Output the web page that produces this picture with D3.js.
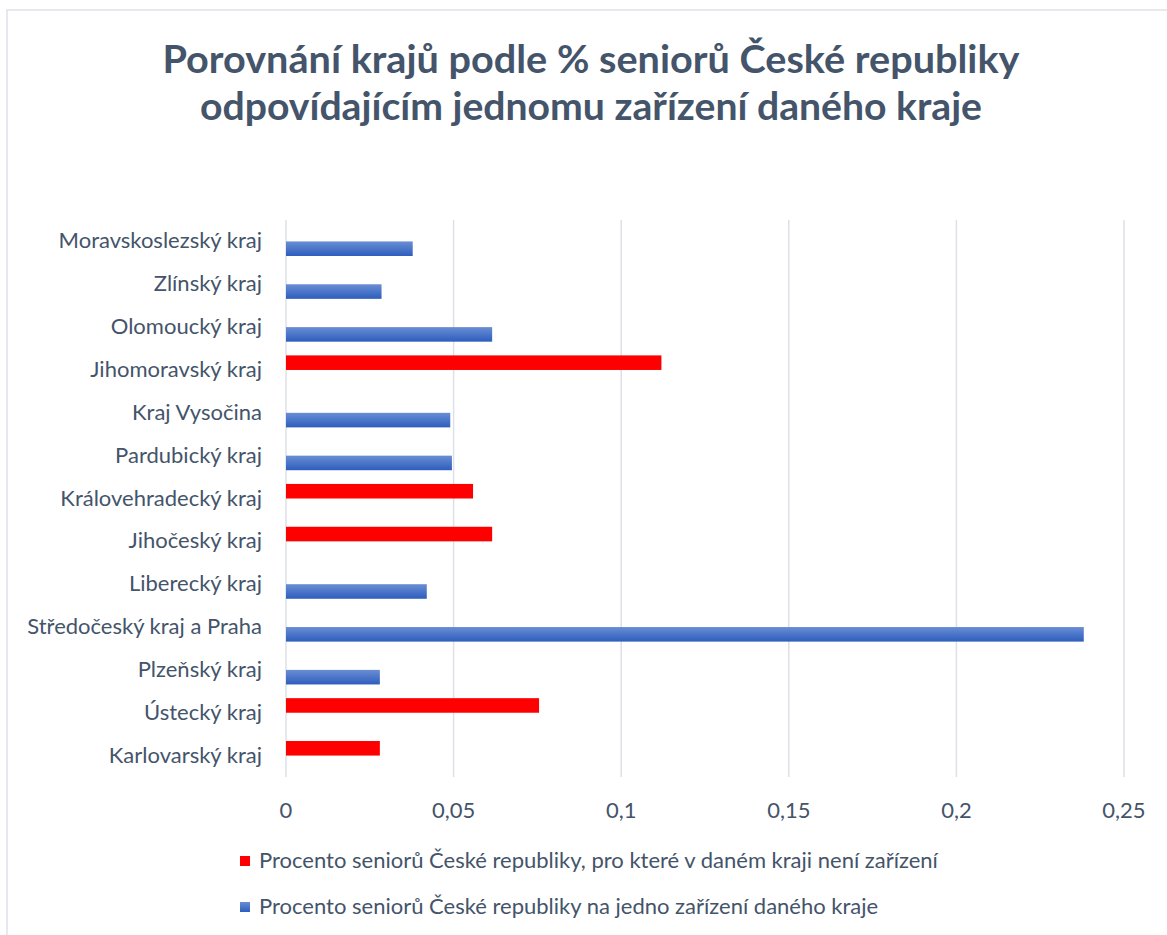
<!DOCTYPE html>
<html>
<head>
<meta charset="utf-8">
<script src="https://cdn.jsdelivr.net/npm/d3@7"></script>
<style>
  body { margin: 0; background: #fff; }
  text { font-family: Lato, "Open Sans", sans-serif; fill: #44546a; }
</style>
</head>
<body>
<svg width="1167" height="935"></svg>
<script>
// Chart data, top to bottom as drawn
var categories = ["Moravskoslezský kraj", "Zlínský kraj", "Olomoucký kraj", "Jihomoravský kraj",
  "Kraj Vysočina", "Pardubický kraj", "Královehradecký kraj", "Jihočeský kraj", "Liberecký kraj",
  "Středočeský kraj a Praha", "Plzeňský kraj", "Ústecký kraj", "Karlovarský kraj"];

// % seniorů, pro které v daném kraji není zařízení (red)
var noFacility = [null, null, null, 0.112, null, null, 0.0558, 0.0615, null, null, null, 0.0755, 0.028];
// % seniorů na jedno zařízení daného kraje (blue)
var perFacility = [0.0378, 0.0285, 0.0615, null, 0.049, 0.0495, null, null, 0.042, 0.238, 0.028, null, null];

var ticks = [0, 0.05, 0.1, 0.15, 0.2, 0.25];
var seriesNames = ["Procento seniorů České republiky, pro které v daném kraji není zařízení",
  "Procento seniorů České republiky na jedno zařízení daného kraje"];
var titleLines = ["Porovnání krajů podle % seniorů České republiky",
  "odpovídajícím jednomu zařízení daného kraje"];

var svg = d3.select("svg"),
    width = +svg.attr("width"),
    height = +svg.attr("height");

// gradient for the blue series
var defs = svg.append("defs");
var grad = defs.append("linearGradient")
    .attr("id", "blueGrad")
    .attr("x1", 0).attr("y1", 0).attr("x2", 0).attr("y2", 1);
grad.append("stop").attr("offset", "0%").attr("stop-color", "#6a8ed4");
grad.append("stop").attr("offset", "100%").attr("stop-color", "#2d5dbd");

var fills = ["#ff0000", "url(#blueGrad)"];

// chart border
svg.append("rect")
    .attr("x", 7).attr("y", 10)
    .attr("width", 1170).attr("height", 940)
    .attr("fill", "none")
    .attr("stroke", "#dee2e8")
    .attr("stroke-width", 1.5);

// title
svg.append("g").selectAll("text")
    .data(titleLines)
  .enter().append("text")
    .attr("x", 591)
    .attr("y", function(d, i) { return 73 + i * 47; })
    .attr("text-anchor", "middle")
    .attr("font-size", 39)
    .attr("font-weight", "bold")
    .attr("textLength", function(d, i) { return i == 0 ? 857 : 782; })
    .attr("lengthAdjust", "spacingAndGlyphs")
    .text(function(d) { return d; });

var x = d3.scaleLinear()
    .domain([0, 0.25])
    .range([286, 1124]);

var y0 = d3.scaleBand()
    .domain(categories)
    .range([220, 777])
    .paddingInner(0.32)
    .paddingOuter(0.16);

var y1 = d3.scaleBand()
    .domain([0, 1])
    .range([0, y0.bandwidth()]);

// gridlines
svg.append("g").selectAll("line")
    .data(ticks)
  .enter().append("line")
    .attr("x1", function(d) { return x(d); })
    .attr("x2", function(d) { return x(d); })
    .attr("y1", 220).attr("y2", 777)
    .attr("stroke", "#dde1e7")
    .attr("stroke-width", 1.5);

// x tick labels
var fmt = function(d) { return String(d).replace(".", ","); };
svg.append("g").selectAll("text")
    .data(ticks)
  .enter().append("text")
    .attr("x", function(d) { return x(d); })
    .attr("y", 810)
    .attr("dy", "0.35em")
    .attr("text-anchor", "middle")
    .attr("font-size", 22)
    .text(fmt);

// category labels
svg.append("g").selectAll("text")
    .data(categories)
  .enter().append("text")
    .attr("x", 262)
    .attr("y", function(d) { return y0(d) + y0.bandwidth() / 2; })
    .attr("dy", "0.32em")
    .attr("text-anchor", "end")
    .attr("font-size", 22)
    .text(function(d) { return d; });

// bars
var series = [noFacility, perFacility];
var rows = [];
series.forEach(function(vals, s) {
  vals.forEach(function(v, i) {
    if (v != null) rows.push({cat: categories[i], s: s, v: v});
  });
});

svg.append("g").selectAll("rect")
    .data(rows)
  .enter().append("rect")
    .attr("x", x(0))
    .attr("y", function(d) { return y0(d.cat) + y1(d.s); })
    .attr("width", function(d) { return x(d.v) - x(0); })
    .attr("height", y1.bandwidth())
    .attr("fill", function(d) { return fills[d.s]; });

// legend
var legend = svg.append("g").selectAll("g")
    .data(seriesNames)
  .enter().append("g")
    .attr("transform", function(d, i) { return "translate(240," + (861 + i * 46) + ")"; });

legend.append("rect")
    .attr("x", 0).attr("y", -5)
    .attr("width", 10).attr("height", 10)
    .attr("fill", function(d, i) { return fills[i]; });

legend.append("text")
    .attr("x", 19)
    .attr("dy", "0.32em")
    .attr("font-size", 22)
    .text(function(d) { return d; });
</script>
</body>
</html>
